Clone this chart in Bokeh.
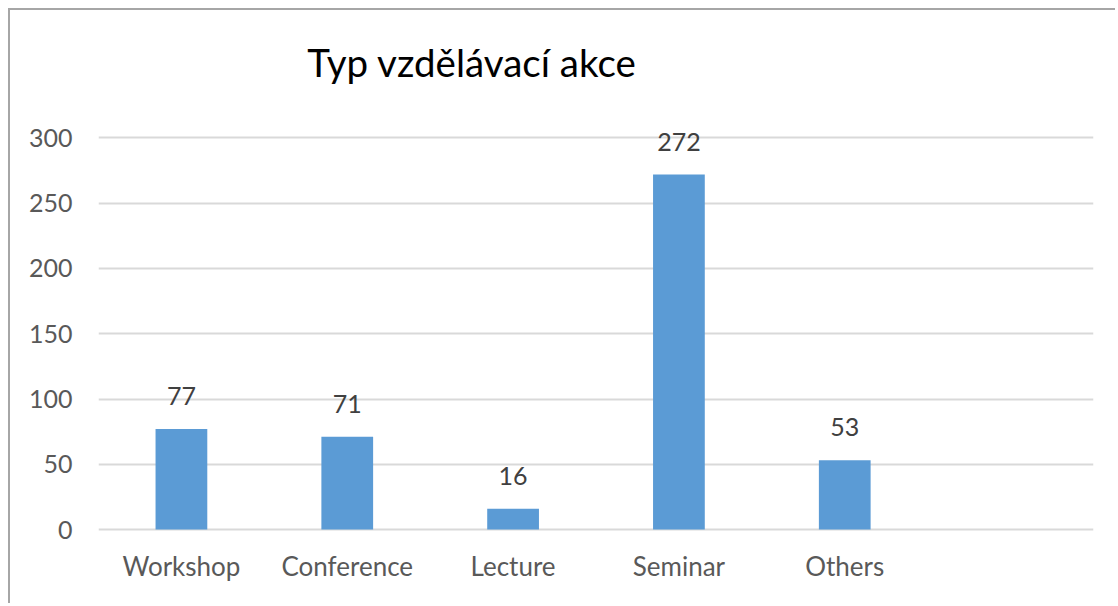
from bokeh.plotting import figure
from bokeh.models import ColumnDataSource, FactorRange, Range1d, LabelSet, Label
from bokeh.core.properties import value
from bokeh.embed import file_html
from bokeh.resources import INLINE

categories = ["Workshop", "Conference", "Lecture", "Seminar", "Others"]
counts = [77, 71, 16, 272, 53]
y_ticks = [0, 50, 100, 150, 200, 250, 300]
title_text = "Typ vzdělávací akce"

factors = categories + [" "]
src = ColumnDataSource(dict(cat=categories, val=counts, lab=[str(v) for v in counts]))

p = figure(
    x_range=FactorRange(*factors, range_padding=0),
    y_range=Range1d(-1.5, 390),
    width=1107, height=595,
    output_backend="svg", toolbar_location=None,
    min_border_left=88, min_border_right=24,
    min_border_top=10, min_border_bottom=74,
)
p.styles = {"margin-left": "8px", "margin-top": "8px",
            "border-top": "2px solid #a6a6a6", "border-left": "2px solid #a6a6a6"}
p.outline_line_color = None
p.background_fill_color = "white"
p.border_fill_color = "white"

p.vbar(x="cat", top="val", width=0.312, source=src, color="#5b9bd5", line_color=None)

p.xgrid.visible = False
p.yaxis.ticker = y_ticks
p.ygrid.grid_line_color = "#d9d9d9"
p.ygrid.grid_line_width = 2

for ax in (p.xaxis, p.yaxis):
    ax.axis_line_color = None
    ax.major_tick_line_color = None
    ax.minor_tick_line_color = None
    ax.major_label_text_font = "Lato"
    ax.major_label_text_color = "#595959"
p.yaxis.major_label_text_font_size = "25px"
p.xaxis.major_label_text_font_size = "26px"
p.yaxis.major_label_standoff = 20
p.xaxis.major_label_standoff = 12

labels = LabelSet(x="cat", y="val", text="lab", source=src, y_offset=33,
                  text_align="center", text_baseline="middle",
                  text_font=value("Lato"), text_font_size=value("25px"), text_color="#404040")
p.add_layout(labels)

title = Label(x=373.5, y=470, x_units="screen", y_units="screen", text=title_text,
              text_align="center", text_baseline="middle",
              text_font="Lato", text_font_size="38.5px", text_color="black")
p.add_layout(title)

open("out.html", "w").write(file_html(p, INLINE))
